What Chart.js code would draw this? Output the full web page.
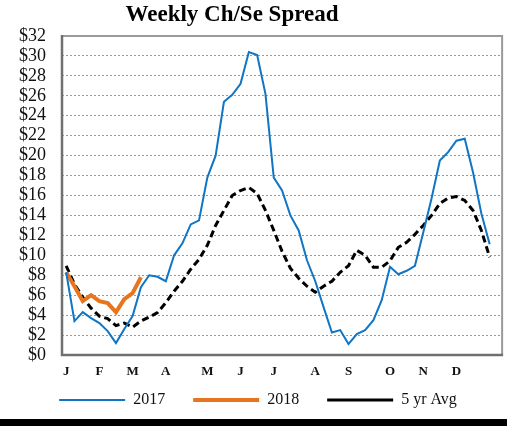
<!DOCTYPE html>
<html lang="en">
<head>
  <meta charset="UTF-8">
  <title>Weekly Ch/Se Spread</title>
  <script src="https://cdn.jsdelivr.net/npm/chart.js"></script>
  <style>
    body { margin: 0; background: #fff; }
    .wrap { position: relative; width: 507px; height: 434px; overflow: hidden; }
    .title {
      position: absolute; top: 1px; left: 0; width: 464px;
      text-align: center; color: #000;
      font: bold 23px 'Liberation Serif', 'Times New Roman', serif;
      line-height: 26px;
    }
    canvas { position: absolute; top: 0; left: 0; }
    .bar { position: absolute; left: 0; top: 419px; width: 507px; height: 7px; background: #000; }
  </style>
</head>
<body>
  <div class="wrap">
    <canvas id="spreadChart" width="507" height="434"></canvas>
    <div class="title">Weekly Ch/Se Spread</div>
    <div class="bar"></div>
  </div>

  <script>
    // month initials and the week each one is placed on
    const monthLabels = ['J', 'F', 'M', 'A', 'M', 'J', 'J', 'A', 'S', 'O', 'N', 'D'];
    const monthWeeks = [0, 4, 8, 12, 17, 21, 25, 30, 34, 39, 43, 47];
    const weekCount = 53;

    const spread2017 = [8.3, 3.4, 4.3, 3.7, 3.2, 2.4, 1.2, 2.6, 3.9, 6.8,
      8.0, 7.85, 7.4, 10.0, 11.2, 13.1, 13.5, 17.8, 20.0, 25.4,
      26.1, 27.2, 30.4, 30.1, 26.2, 17.8, 16.5, 14.0, 12.5, 9.5,
      7.4, 4.8, 2.25, 2.5, 1.1, 2.1, 2.5, 3.5, 5.5, 8.85,
      8.1, 8.45, 8.95, 12.3, 15.7, 19.5, 20.35, 21.5, 21.7, 18.3,
      14.2, 11.1];
    const spread2018 = [8.3, 6.9, 5.4, 6.0, 5.4, 5.2, 4.3, 5.6, 6.2, 7.8];
    const spreadAvg = [8.95, 7.1, 5.8, 4.7, 3.9, 3.65, 2.95, 3.2, 2.8, 3.4,
      3.8, 4.25, 5.25, 6.4, 7.4, 8.6, 9.6, 11.0, 13.0, 14.5,
      16.0, 16.5, 16.8, 16.2, 14.5, 12.5, 10.4, 8.7, 7.7, 6.9,
      6.3, 6.9, 7.4, 8.3, 8.95, 10.5, 10.0, 8.8, 8.8, 9.45,
      10.8, 11.3, 12.1, 13.0, 14.0, 15.2, 15.75, 15.9, 15.5, 14.5,
      12.5, 9.8];

    const weekLabels = [];
    for (let i = 0; i < weekCount; i++) {
      const m = monthWeeks.indexOf(i);
      weekLabels.push(m >= 0 ? monthLabels[m] : '');
    }

    const serif = "'Liberation Serif', 'Times New Roman', serif";

    // plot frame: heavier left/bottom edges like the original
    const framePlugin = {
      id: 'frame',
      afterLayout(chart) {
        // pull the legend up closer to the axis and nudge it right
        const lg = chart.legend;
        if (lg) {
          lg.top -= 16; lg.bottom -= 16;
          lg.left += 6; lg.right += 6;
        }
      },
      beforeDatasetsDraw(chart) {
        const { ctx, chartArea: a } = chart;
        ctx.save();
        ctx.strokeStyle = '#9a9a9a';
        ctx.lineWidth = 2;
        ctx.beginPath();
        ctx.moveTo(a.left, a.top);
        ctx.lineTo(a.right, a.top);
        ctx.lineTo(a.right, a.bottom);
        ctx.stroke();
        ctx.strokeStyle = '#707070';
        ctx.lineWidth = 2.5;
        ctx.beginPath();
        ctx.moveTo(a.left, a.top - 1);
        ctx.lineTo(a.left, a.bottom);
        ctx.lineTo(a.right + 1, a.bottom);
        ctx.stroke();
        ctx.restore();
      }
    };

    new Chart(document.getElementById('spreadChart'), {
      type: 'line',
      data: {
        labels: weekLabels,
        datasets: [
          {
            label: '2017',
            data: spread2017,
            borderColor: '#0f75c4',
            borderWidth: 2,
            pointRadius: 0,
            tension: 0
          },
          {
            label: '2018',
            data: spread2018,
            borderColor: '#e8741e',
            borderWidth: 4,
            pointRadius: 0,
            tension: 0
          },
          {
            label: '5 yr Avg',
            data: spreadAvg,
            borderColor: '#000',
            borderWidth: 3,
            borderDash: [7, 4],
            pointRadius: 0,
            tension: 0
          }
        ]
      },
      options: {
        responsive: false,
        animation: false,
        layout: { padding: { top: 36, right: 3, left: 0, bottom: 0 } },
        scales: {
          x: {
            offset: true,
            grid: { display: false, drawTicks: false },
            border: { display: false },
            ticks: {
              autoSkip: false,
              maxRotation: 0,
              padding: 9,
              color: '#111',
              font: { family: serif, size: 13, weight: 'bold' }
            },
            afterFit(scale) { scale.height = 25; }
          },
          y: {
            min: 0,
            max: 32,
            grid: { color: '#999', lineWidth: 1, drawTicks: false },
            border: { display: false, dash: [2, 2] },
            ticks: {
              stepSize: 2,
              autoSkip: false,
              padding: 16,
              color: '#111',
              font: { family: serif, size: 18 },
              callback: v => '$' + v
            },
            afterFit(scale) { scale.width = 62; }
          }
        },
        plugins: {
          title: { display: false },
          tooltip: { enabled: false },
          legend: {
            position: 'bottom',
            labels: {
              usePointStyle: true,
              pointStyle: 'line',
              pointStyleWidth: 66,
              padding: 28,
              color: '#111',
              font: { family: serif, size: 16 }
            }
          }
        }
      },
      plugins: [framePlugin]
    });
  </script>
</body>
</html>
